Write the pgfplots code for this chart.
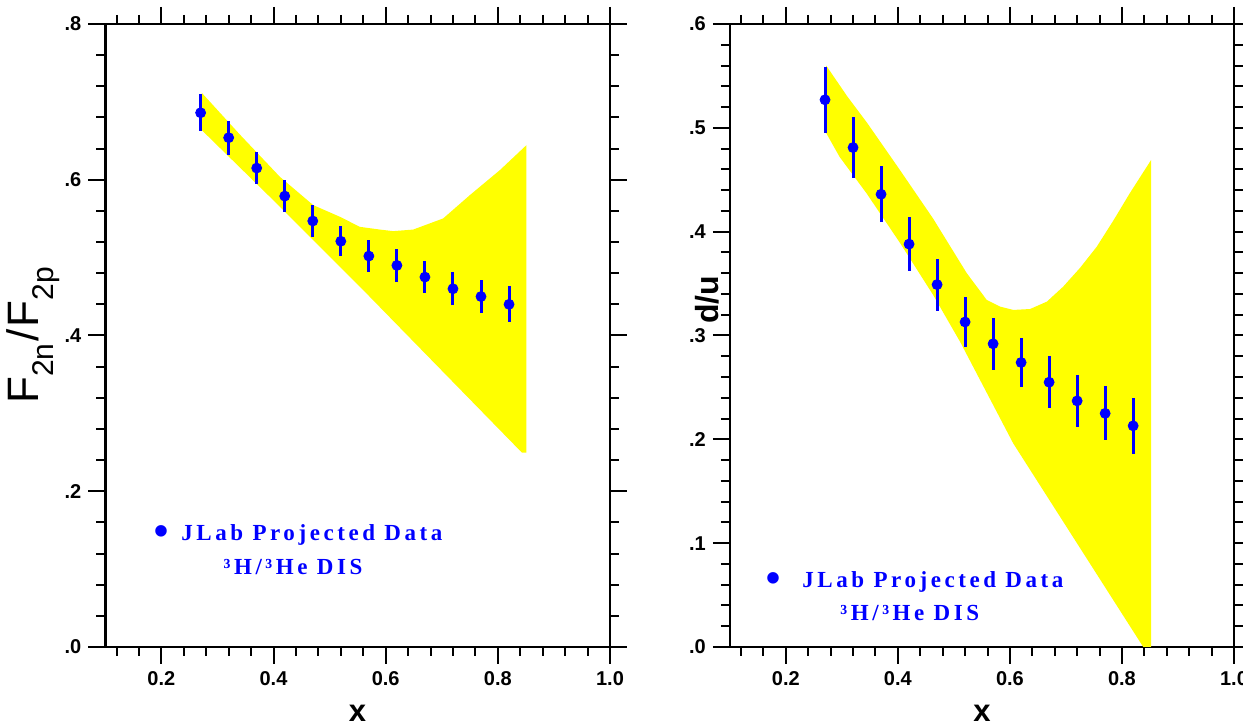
\documentclass[border=0pt]{standalone}
\usepackage{fontspec}
\setmainfont{Liberation Sans}
\newfontfamily\legfont[LetterSpace=15.5]{Liberation Serif}
\usepackage{pgfplots}
\pgfplotsset{compat=1.18}
\definecolor{bandyellow}{RGB}{255,255,0}
\definecolor{ptblue}{RGB}{0,0,255}
\pgfplotsset{
  myaxis/.style={
    scale only axis,
    anchor=south west,
    height=311.5pt,
    xmin=0.1, xmax=1.0,
    xtick={0.2,0.4,0.6,0.8,1.0},
    xticklabels={0.2,0.4,0.6,0.8,1.0},
    minor xtick={0.12,0.16,0.24,0.28,0.32,0.36,0.44,0.48,0.52,0.56,0.64,0.68,0.72,0.76,0.84,0.88,0.92,0.96},
    tick align=outside,
    major tick length=8.5pt,
    minor tick length=4.5pt,
    every tick/.style={black, line width=1pt},
    axis line style={line width=1.25pt},
    tick label style={font=\fontsize{10}{10}\selectfont\bfseries},
    /pgf/number format/assume math mode=true,
    xticklabel pos=lower, yticklabel pos=left,
    clip=true,
  },
  band/.style={draw=none, fill=bandyellow},
  pts/.style={only marks, mark=*, color=ptblue, mark size=2.5pt,
    mark options={fill=ptblue, draw=ptblue},
    error bars/.cd, y dir=both, y explicit, error mark=none,
    error bar style={line width=1.5pt, ptblue}},
}
\pgfplotstableread{
x y e
0.27 0.686 0.024
0.32 0.654 0.022
0.37 0.615 0.020
0.42 0.579 0.021
0.47 0.547 0.021
0.52 0.521 0.019
0.57 0.502 0.021
0.62 0.490 0.021
0.67 0.475 0.021
0.72 0.460 0.021
0.77 0.450 0.021
0.82 0.440 0.023
}\leftdata
\pgfplotstableread{
x y e
0.27 0.527 0.032
0.32 0.481 0.029
0.37 0.436 0.027
0.42 0.388 0.026
0.47 0.349 0.025
0.52 0.313 0.024
0.57 0.292 0.025
0.62 0.274 0.024
0.67 0.255 0.025
0.72 0.237 0.025
0.77 0.225 0.026
0.82 0.213 0.027
}\rightdata
\newcommand{\legtext}{\legfont\fontsize{11.5}{12}\selectfont\bfseries}
\begin{document}
\begin{tikzpicture}
\path[use as bounding box] (0,0) rectangle (621.5pt,363pt);
% ---------- left panel ----------
\begin{axis}[myaxis, at={(52.65pt,39.5pt)}, width=252.35pt,
  ymin=0, ymax=0.8,
  ytick={0,0.2,0.4,0.6,0.8},
  yticklabels={.0,.2,.4,.6,.8},
  minor ytick={0.04,0.08,0.12,0.16,0.24,0.28,0.32,0.36,0.44,0.48,0.52,0.56,0.64,0.68,0.72,0.76},
]
\addplot[band] coordinates {
(0.272,0.7116) (0.34,0.658) (0.4114,0.6037) (0.4708,0.5674) (0.5184,0.5524) (0.554,0.5395)
(0.5897,0.5360) (0.6134,0.5340) (0.649,0.5360) (0.7025,0.5503) (0.7501,0.5802)
(0.8036,0.6123) (0.851,0.6444)
(0.851,0.2497) (0.8428,0.2497) (0.554,0.4627) (0.4114,0.5654) (0.272,0.6637)
} -- cycle;
\addplot[pts] table[x=x, y=y, y error=e] {\leftdata};
\end{axis}
% ---------- right panel ----------
\begin{axis}[myaxis, at={(364.9pt,39.5pt)}, width=252.1pt,
  ymin=0, ymax=0.6,
  ytick={0,0.1,0.2,0.3,0.4,0.5,0.6},
  yticklabels={.0,.1,.2,.3,.4,.5,.6},
  minor ytick={0.02,0.04,0.06,0.08,0.12,0.14,0.16,0.18,0.22,0.24,0.26,0.28,0.32,0.34,0.36,0.38,0.42,0.44,0.46,0.48,0.52,0.54,0.56,0.58},
]
\addplot[band] coordinates {
(0.272,0.560) (0.31,0.530) (0.344,0.5056) (0.4036,0.4594) (0.463,0.4125) (0.523,0.360)
(0.5587,0.3342) (0.5825,0.3278) (0.606,0.3246) (0.636,0.3255) (0.666,0.3326)
(0.695,0.347) (0.725,0.365) (0.755,0.3855) (0.785,0.411) (0.814,0.437) (0.852,0.469)
(0.852,-0.012) (0.838,0.0) (0.606,0.196) (0.511,0.294) (0.463,0.339)
(0.404,0.389) (0.344,0.437) (0.296,0.472) (0.272,0.495)
} -- cycle;
\addplot[pts] table[x=x, y=y, y error=e] {\rightdata};
\end{axis}
% ---------- axis titles ----------
\node[rotate=90] at (16.5pt,195.25pt)
  {\fontsize{22}{22}\selectfont F\raisebox{-0.35em}{\fontsize{15}{15}\selectfont 2n}\hspace{1pt}/\hspace{1pt}F\raisebox{-0.35em}{\fontsize{15}{15}\selectfont 2p}};
\node[rotate=90] at (353.5pt,213pt) {\fontsize{16}{16}\selectfont\bfseries d/u};
\node at (178.8pt,6.5pt) {\fontsize{15.5}{16}\selectfont\bfseries x};
\node at (491pt,6.5pt) {\fontsize{15.5}{16}\selectfont\bfseries x};
% ---------- legend texts ----------
\node[text=ptblue, inner sep=0pt] at (80.85pt,95.5pt) {\fontsize{20}{20}\selectfont\bfseries •};
\node[anchor=west, text=ptblue, inner sep=0pt] at (90.5pt,95.5pt) {\legtext JLab Projected Data};
\node[anchor=west, text=ptblue, inner sep=0pt] at (111.6pt,79.6pt) {\legtext ³H/³He DIS};
\node[text=ptblue, inner sep=0pt] at (386.65pt,72.2pt) {\fontsize{20}{20}\selectfont\bfseries •};
\node[anchor=west, text=ptblue, inner sep=0pt] at (401pt,72.2pt) {\legtext JLab Projected Data};
\node[anchor=west, text=ptblue, inner sep=0pt] at (420pt,56.3pt) {\legtext ³H/³He DIS};
\end{tikzpicture}
\end{document}
